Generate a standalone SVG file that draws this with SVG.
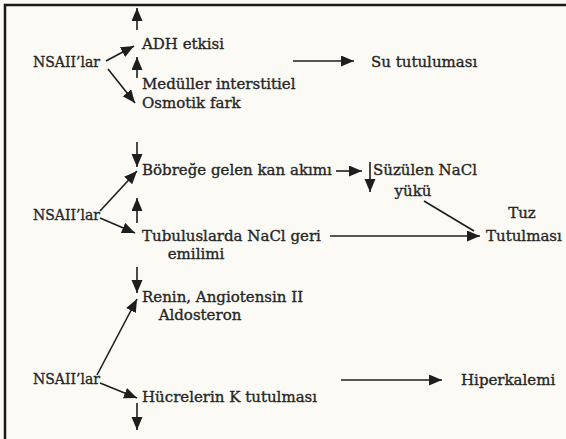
<svg xmlns="http://www.w3.org/2000/svg" width="566" height="439" viewBox="0 0 566 439">
<defs>
<marker id="ah" markerUnits="userSpaceOnUse" markerWidth="15" markerHeight="12" refX="13" refY="5.5" orient="auto">
<path d="M0,0 L13,5.5 L0,11 Z" fill="#1e1e1e"/>
</marker>
<style>
text{font-family:"DejaVu Serif","Liberation Serif",serif;font-size:15px;fill:#262626;stroke:#262626;stroke-width:0.35}
.c{text-anchor:middle}
.a{stroke:#1e1e1e;stroke-width:1.6;fill:none;marker-end:url(#ah)}
.l{stroke:#1e1e1e;stroke-width:1.6;fill:none}
</style>
</defs>
<rect width="566" height="439" fill="#fbfaf5"/>
<path d="M5,439 V5 H566" fill="none" stroke="#1a1a1a" stroke-width="2.5"/>

<g id="connectors">
<line class="a" x1="137" y1="30" x2="137" y2="8"/>
<line class="a" x1="106" y1="61" x2="134" y2="46"/>
<line class="a" x1="137" y1="78" x2="137" y2="57"/>
<line class="a" x1="108" y1="69" x2="135" y2="103"/>
<line class="a" x1="293" y1="61" x2="354" y2="61"/>
<line class="a" x1="137" y1="142" x2="137" y2="167"/>
<line class="a" x1="100" y1="211" x2="137" y2="171"/>
<line class="a" x1="100" y1="218" x2="135" y2="233"/>
<line class="a" x1="137" y1="223" x2="137" y2="198"/>
<line class="a" x1="336" y1="171" x2="362" y2="171"/>
<line class="a" x1="370" y1="162" x2="370" y2="192"/>
<line class="l" x1="424" y1="201" x2="474" y2="231"/>
<line class="a" x1="330" y1="236" x2="480" y2="236"/>
<line class="a" x1="137" y1="267" x2="137" y2="293"/>
<line class="a" x1="97" y1="375" x2="137" y2="299"/>
<line class="a" x1="100" y1="383" x2="137" y2="398"/>
<line class="a" x1="137" y1="403" x2="137" y2="430"/>
<line class="a" x1="341" y1="380" x2="442" y2="380"/>
</g>

<g id="nsaii1"><text x="33" y="67" textLength="67" lengthAdjust="spacingAndGlyphs">NSAII’lar</text></g>
<g id="adh"><text x="142" y="49">ADH etkisi</text></g>
<g id="medullar"><text x="142" y="89">Medüller interstitiel</text><text x="142" y="108">Osmotik fark</text></g>
<g id="su"><text x="371" y="67">Su tutuluması</text></g>

<g id="nsaii2"><text x="33" y="220" textLength="67" lengthAdjust="spacingAndGlyphs">NSAII’lar</text></g>
<g id="bobrek"><text x="142" y="175">Böbreğe gelen kan akımı</text></g>
<g id="suzulen"><text x="373" y="175">Süzülen NaCl</text><text class="c" x="413" y="196">yükü</text></g>
<g id="tubulus"><text x="142" y="241">Tubuluslarda NaCl geri</text><text class="c" x="196" y="259">emilimi</text></g>
<g id="tuz"><text class="c" x="522" y="218">Tuz</text><text x="486" y="241">Tutulması</text></g>
<g id="renin"><text x="142" y="302">Renin, Angiotensin II</text><text class="c" x="200" y="320">Aldosteron</text></g>

<g id="nsaii3"><text x="33" y="384" textLength="67" lengthAdjust="spacingAndGlyphs">NSAII’lar</text></g>
<g id="hucre"><text x="142" y="402">Hücrelerin K tutulması</text></g>
<g id="hiper"><text x="461" y="385">Hiperkalemi</text></g>
</svg>
